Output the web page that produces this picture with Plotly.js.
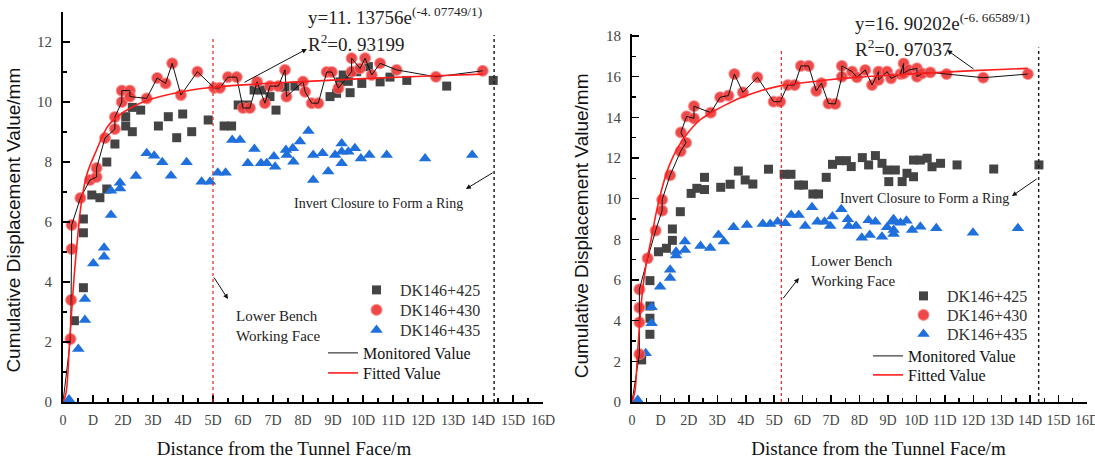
<!DOCTYPE html>
<html><head><meta charset="utf-8">
<script src="https://cdn.plot.ly/plotly-3.0.1.min.js"></script>
<style>html,body{margin:0;padding:0;background:#fff}#chart{width:1095px;height:459px}</style>
</head><body><div id="chart"></div>
<script>
// ---------- tick labels ----------
const tickVals = [0,1,2,3,4,5,6,7,8,9,10,11,12,13,14,15,16];
const tickText = ["0","D","2D","3D","4D","5D","6D","7D","8D","9D","10D","11D","12D","13D","14D","15D","16D"];
const seriesNames = ["DK146+425","DK146+430","DK146+435","Monitored Value","Fitted Value"];

// ---------- LEFT chart data (x in D units, y in mm) ----------
const L425x = [0.38,0.68,0.68,0.68,0.96,1.23,1.46,1.46,1.73,2.09,2.09,2.31,2.31,2.59,3.18,3.51,3.79,3.99,4.29,4.84,5.37,5.62,5.84,6.12,6.37,6.62,6.9,7.1,7.4,7.73,8.9,9.12,9.23,9.34,9.51,9.57,9.79,9.96,10.18,10.57,10.9,11.46,12.79,14.34];
const L425y = [2.71,3.81,5.64,6.1,6.9,6.81,7.1,8.0,8.6,9.2,9.51,9.01,9.82,9.73,9.2,9.51,8.81,9.6,9.01,9.4,9.2,9.2,9.9,9.9,10.4,10.4,10.18,9.73,10.49,10.53,10.18,10.29,10.67,10.9,10.69,10.31,11.01,10.62,11.18,10.67,10.83,10.72,10.53,10.72];

const L430x = [0.25,0.27,0.29,0.29,0.58,0.9,1.12,1.12,1.4,1.73,1.73,1.96,1.96,2.23,2.23,2.79,3.14,3.42,3.64,3.93,4.48,5.04,5.23,5.5,5.79,6.0,6.23,6.47,6.73,6.9,7.18,7.4,7.45,8.0,8.07,8.29,8.51,8.79,8.96,9.18,9.62,9.62,9.9,10.07,10.29,10.57,11.12,12.43,13.99];
const L430y = [2.1,3.4,5.1,5.9,6.8,7.4,7.5,7.8,8.8,9.1,9.5,10.0,10.38,10.38,10.18,10.12,10.8,10.62,11.29,10.23,11.01,10.47,10.47,10.83,10.83,9.8,9.8,10.67,9.96,10.53,10.53,11.07,10.18,10.68,10.34,9.96,9.96,11.0,11.0,10.46,11.01,11.46,11.12,11.46,10.9,11.29,11.07,10.84,11.04];

const L435x = [0.2,0.51,0.73,0.73,1.01,1.37,1.37,1.6,1.6,1.9,1.9,2.43,2.79,3.04,3.31,3.6,4.12,4.62,4.9,5.16,5.42,5.64,5.9,6.16,6.38,6.6,6.79,7.03,7.07,7.43,7.46,7.66,7.68,7.9,8.18,8.34,8.34,8.65,8.84,9.07,9.29,9.29,9.29,9.51,9.73,9.93,10.21,10.79,12.07,13.64];
const L435y = [0.08,1.77,2.73,3.43,4.62,4.84,5.14,6.23,7.04,7.12,7.31,7.53,8.29,8.21,7.99,7.54,7.99,7.34,7.34,7.64,7.64,8.73,8.73,7.96,8.43,7.96,7.96,8.18,7.84,8.4,8.23,8.46,8.01,8.68,9.03,8.23,7.4,8.29,7.68,8.23,8.62,8.34,7.96,8.34,8.46,8.12,8.23,8.23,8.12,8.23];

const LfitX = [0,0.1,0.23,0.35,0.46,0.62,0.8,1.12,1.5,2,2.8,4,5,6,8,10,12,14];
const LfitY = [0,0.3,2.2,3.9,5.2,6.7,7.6,8.4,9.2,9.65,10.05,10.35,10.49,10.57,10.68,10.78,10.86,10.93];

// ---------- RIGHT chart data ----------
const R425x = [0.34,0.63,0.63,0.63,0.63,0.93,1.21,1.42,1.42,1.7,2.08,2.28,2.55,2.55,3.12,3.45,3.74,3.98,4.25,4.8,5.35,5.59,5.86,6.03,6.36,6.56,6.83,7.05,7.3,7.54,7.71,8.1,8.32,8.56,8.79,8.97,9.03,9.26,9.5,9.67,9.9,9.9,10.14,10.38,10.55,10.85,11.43,12.72,14.31];
const R425y = [2.07,3.33,4.12,4.72,5.97,7.39,7.56,7.95,8.51,9.36,10.26,10.51,10.45,11.05,10.56,10.71,11.36,10.92,10.72,11.45,11.2,11.2,10.67,10.67,10.23,10.23,11.05,11.69,11.87,11.87,11.58,12.02,11.66,12.12,11.74,11.41,10.84,11.41,10.84,11.25,11.08,11.9,11.9,11.99,11.57,11.74,11.66,11.46,11.66];

const R430x = [0.26,0.26,0.26,0.26,0.55,0.83,1.06,1.06,1.34,1.71,1.9,1.72,1.92,2.18,2.18,2.77,3.1,3.39,3.6,3.9,4.41,4.98,5.21,5.48,5.72,5.94,6.21,6.48,6.66,6.91,7.15,7.38,7.38,7.74,7.91,8.2,8.44,8.67,8.67,8.97,9.11,9.44,9.55,9.55,9.73,10.02,10.02,10.2,10.49,11.06,12.35,13.92];
const R430y = [2.35,3.92,4.64,5.54,7.07,8.43,9.41,9.95,11.15,12.33,12.75,13.26,14.05,13.95,14.55,14.23,14.99,15.07,16.13,15.23,15.97,14.77,14.77,15.59,15.59,16.53,16.53,15.3,15.68,14.68,14.66,16.0,16.53,16.25,15.97,16.33,15.59,16.25,15.84,16.25,15.92,16.13,16.65,16.16,16.33,16.41,16.0,16.16,16.21,16.13,15.95,16.13];

const R435x = [0.2,0.48,0.69,0.69,0.99,1.34,1.34,1.55,1.55,1.86,1.86,2.41,2.75,3.04,3.23,3.57,4.04,4.6,4.86,5.12,5.39,5.6,5.86,6.09,6.33,6.52,6.77,6.97,7.05,7.36,7.59,7.62,7.88,8.08,8.32,8.36,8.56,8.79,8.97,9.14,9.2,9.2,9.2,9.44,9.65,9.85,10.14,10.7,11.99,13.57];
const R435y = [0.1,2.4,3.87,4.66,5.67,6.1,6.5,7.2,7.39,7.48,7.89,7.67,7.58,8.21,7.89,8.59,8.71,8.76,8.76,8.87,8.79,9.2,9.2,8.66,9.58,8.87,8.87,8.66,9.12,9.48,8.99,8.66,8.66,8.08,8.94,8.21,8.87,8.13,8.59,8.87,8.99,8.46,8.26,8.82,8.92,8.46,8.62,8.54,8.33,8.54];

const RfitX = [0,0.1,0.2,0.36,0.5,0.67,0.85,1.04,1.3,1.63,2.0,2.39,2.75,3.27,3.8,4.5,5.21,6.0,6.85,8,10,12,13.92];
const RfitY = [0,0.5,2.5,5.35,6.8,7.97,9.3,10.43,11.6,12.56,13.3,13.87,14.2,14.6,14.95,15.3,15.55,15.7,15.84,15.98,16.15,16.3,16.41];

// ---------- styles ----------
const GRAY = '#444444', RED = '#ec3a3a', BLUE = '#1f6fdc';
const serif = 'Liberation Serif';
const sans = 'Liberation Sans';
const W = 1095, H = 459;
const NB = '&nbsp;';
const xTitle = 'Distance from the Tunnel Face/m';
const yTitle = 'Cumulative Displacement Value/mm';

function makeTraces(xa, ya, d, lg) {
  return [
    {x:d.sx, y:d.sy, xaxis:xa, yaxis:ya, mode:'markers', type:'scatter', name:seriesNames[0], legend:lg[0],
     marker:{symbol:'square', size:9, color:GRAY}, cliponaxis:false},
    {x:d.tx, y:d.ty, xaxis:xa, yaxis:ya, mode:'markers', type:'scatter', name:seriesNames[2], legend:lg[2],
     marker:{symbol:'triangle-up', size:11, color:BLUE}, cliponaxis:false},
    {x:d.cx, y:d.cy, xaxis:xa, yaxis:ya, mode:'markers', type:'scatter', name:seriesNames[1], legend:lg[1],
     marker:{symbol:'circle', size:11, color:RED, opacity:0.92, line:{color:'rgba(255,130,130,0.75)', width:1.2}}, cliponaxis:false},
    {x:[0].concat(d.cx), y:[0].concat(d.cy), xaxis:xa, yaxis:ya, mode:'lines', type:'scatter', name:seriesNames[3], legend:lg[3],
     line:{color:'#111', width:1}},
    {x:d.fx, y:d.fy, xaxis:xa, yaxis:ya, mode:'lines', type:'scatter', name:seriesNames[4], legend:lg[4],
     line:{color:'#ff1e1e', width:1.6, shape:'spline'}}
  ];
}

const data = [].concat(
  makeTraces('x','y',{sx:L425x,sy:L425y,cx:L430x,cy:L430y,tx:L435x,ty:L435y,fx:LfitX,fy:LfitY},
    ['legend','legend2','legend3','legend4','legend5']),
  makeTraces('x2','y2',{sx:R425x,sy:R425y,cx:R430x,cy:R430y,tx:R435x,ty:R435y,fx:RfitX,fy:RfitY},
    ['legend6','legend7','legend8','legend9','legend10'])
);

function xAxis(dom, anchor, standoff, ttl) {
  return {domain:dom, anchor:anchor, range:[0,16], tickmode:'array', tickvals:tickVals, ticktext:tickText,
    ticks:'inside', ticklen:7, tickwidth:1.5, tickcolor:'#000', showline:true, linecolor:'#000', linewidth:2,
    showgrid:false, zeroline:false, ticklabelstandoff:4, ticklabeloverflow:'allow',
    minor:{ticks:'inside', tickmode:'linear', tick0:0, dtick:0.5, ticklen:4, tickwidth:1.2, tickcolor:'#000', showgrid:false},
    tickfont:{family:serif, size:14, color:'#444'},
    title:{text:ttl, font:{family:serif, size:19, color:'#111'}, standoff:standoff}};
}
function yAxis(dom, anchor, rng, standoff, ttl) {
  return {domain:dom, anchor:anchor, range:rng, tickmode:'linear', tick0:0, dtick:2,
    ticks:'inside', ticklen:7, tickwidth:1.5, tickcolor:'#000', showline:true, linecolor:'#000', linewidth:2,
    showgrid:false, zeroline:false, ticklabelstandoff:6,
    minor:{ticks:'inside', tickmode:'linear', tick0:0, dtick:1, ticklen:4, tickwidth:1.2, tickcolor:'#000', showgrid:false},
    tickfont:{family:serif, size:15, color:'#444'},
    title:{text:ttl, font:{family:sans, size:19, color:'#111'}, standoff:standoff}};
}

function legendBox(xpx, ypx, iw, color) {
  return {x:xpx/W, y:1-ypx/H, xanchor:'left', yanchor:'top', bgcolor:'rgba(0,0,0,0)', borderwidth:0,
    font:{family:serif, size:16, color:color}, itemwidth:iw, tracegroupgap:0};
}

function arrow(xr, yr, hx, hy, tx, ty) {
  return {xref:xr, yref:yr, axref:xr, ayref:yr, x:hx, y:hy, ax:tx, ay:ty, text:'', showarrow:true,
    arrowhead:2, arrowsize:1, arrowwidth:1, arrowcolor:'#111'};
}
function label(xpx, ypx, txt, size) {
  return {xref:'paper', yref:'paper', x:xpx/W, y:1-ypx/H, xanchor:'left', yanchor:'middle', text:txt,
    showarrow:false, align:'left', font:{family:serif, size:size, color:'#222'}};
}

const layout = {
  width:W, height:H, margin:{l:0,r:0,t:0,b:0}, paper_bgcolor:'#fff', plot_bgcolor:'rgba(0,0,0,0)',
  font:{family:serif, color:'#222'},
  showlegend:true,
  xaxis: xAxis([63/W, 543/W], 'y', 21, xTitle + NB.repeat(8)),
  yaxis: yAxis([1-402/H, 1-12/H], 'x', [0,13], 11, yTitle + NB.repeat(5)),
  xaxis2: xAxis([632/W, 1087/W], 'y2', 20, NB.repeat(8) + xTitle),
  yaxis2: yAxis([1-402/H, 1-34/H], 'x2', [0,18.1], 12, yTitle + NB.repeat(3)),
  legend:  legendBox(353, 273, 37, '#333'),
  legend2: legendBox(353, 293, 37, '#333'),
  legend3: legendBox(353, 313, 37, '#333'),
  legend4: legendBox(323, 336, 30, '#111'),
  legend5: legendBox(323, 356, 30, '#111'),
  legend6: legendBox(900, 279, 37, '#333'),
  legend7: legendBox(900, 298, 37, '#333'),
  legend8: legendBox(900, 317, 37, '#333'),
  legend9: legendBox(868, 339, 30, '#111'),
  legend10: legendBox(868, 358, 30, '#111'),
  shapes: [
    {type:'line', xref:'x', yref:'y', x0:5, x1:5, y0:0, y1:12.2, line:{color:'#e02020', width:1.2, dash:'dot'}},
    {type:'line', xref:'x', yref:'y', x0:14.37, x1:14.37, y0:0, y1:12.23, line:{color:'#222', width:1.5, dash:'dot'}},
    {type:'line', xref:'x2', yref:'y2', x0:5.25, x1:5.25, y0:0, y1:17.35, line:{color:'#e02020', width:1.2, dash:'dot'}},
    {type:'line', xref:'x2', yref:'y2', x0:14.3, x1:14.3, y0:0, y1:17.43, line:{color:'#222', width:1.5, dash:'dot'}}
  ],
  annotations: [
    label(306, 16, 'y=11. 13756e<sup>(-4. 07749/1)</sup>', 19),
    label(306, 43, 'R<sup>2</sup>=0. 93199', 19),
    label(292, 203, 'Invert Closure to Form a Ring', 14),
    label(234, 326, 'Lower Bench<br>Working Face', 15),
    arrow('x','y', 8.13, 11.77, 6.0, 10.63),
    arrow('x','y', 13.43, 7.1, 14.37, 7.67),
    arrow('x','y', 5.5, 3.43, 5.0, 4.2),
    label(853, 22, 'y=16. 90202e<sup>(-6. 66589/1)</sup>', 19),
    label(853, 48, 'R<sup>2</sup>=0. 97037', 19),
    label(838, 199, 'Invert Closure to Form a Ring', 14),
    label(809, 271, 'Lower Bench<br>Working Face', 15),
    arrow('x2','y2', 11.08, 17.31, 12.06, 16.33),
    arrow('x2','y2', 13.36, 10.13, 14.28, 11.02),
    arrow('x2','y2', 5.87, 6.1, 5.27, 5.02)
  ]
};

Plotly.newPlot('chart', data, layout, {displayModeBar:false, staticPlot:true});
</script>
</body></html>
